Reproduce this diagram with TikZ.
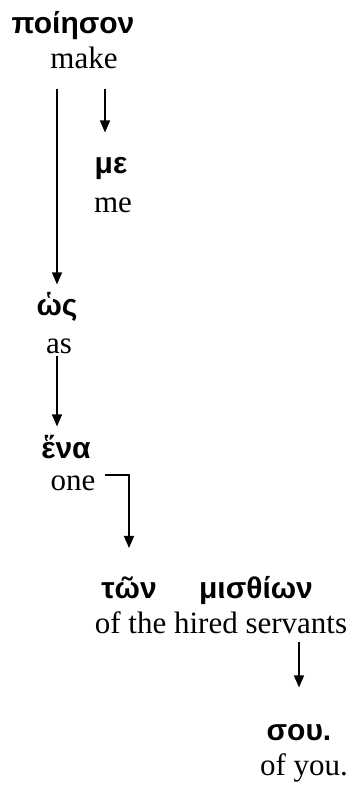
\documentclass[tikz,border=0pt]{standalone}
\usepackage{fontspec}
\setmainfont{Liberation Serif}
\newfontfamily\grk{Liberation Sans}
\usetikzlibrary{arrows.meta}

\begin{document}
\begin{tikzpicture}
  [x=0.5pt,y=-0.5pt,every node/.style={inner sep=0pt,anchor=base},
   gr/.style={font=\grk\bfseries\fontsize{15}{17}\selectfont},
   en/.style={font=\fontsize{15.5}{18}\selectfont},
   arr/.style={line width=0.65pt,-{Triangle[width=5pt,length=6pt]}}] % greek line on top, english gloss below it
    \useasboundingbox (0,0) rectangle (354,787);

    \node[gr] (g0) at (73,33)   {ποίησον};
    \node[en] (e0) at (84,68)   {make};
    \node[gr] (g1) at (111,173) {με};
    \node[en] (e1) at (113,212) {me};
    \node[gr] (g2) at (57,315)  {ὡς};
    \node[en] (e2) at (59,353)  {as};
    \node[gr] (g3) at (66,458)  {ἕνα};
    \node[en] (e3) at (73,490)  {one};
    \node[gr] (g4) at (129,598) {τῶν};
    \node[gr] (g5) at (256,598) {μισθίων};
    \node[en] (e4) at (221,633) {of the hired servants};
    \node[gr] (g6) at (299,740) {σου.};
    \node[en] (e5) at (304,775) {of you.};

    \draw [arr,shorten <=10pt,shorten >=3.5pt] (e0.south -| g2.north) -- (g2.north);
    \draw [arr,shorten <=10pt,shorten >=12pt] ([xshift=-3pt]e0.south -| g1.north) -- ([xshift=-3pt]g1.north);
    \draw [arr,shorten <=1pt,shorten >=4pt] ([xshift=-1pt]e2.south) -- ([xshift=-1pt]e2.south |- g3.north);
    \draw [arr,shorten >=14pt] ([xshift=4.5pt]e3.north east) -| (g4.north);
    \draw [arr,shorten <=4pt,shorten >=18pt] (e4.south -| g6.north) -- (g6.north);

\end{tikzpicture}
\end{document}
